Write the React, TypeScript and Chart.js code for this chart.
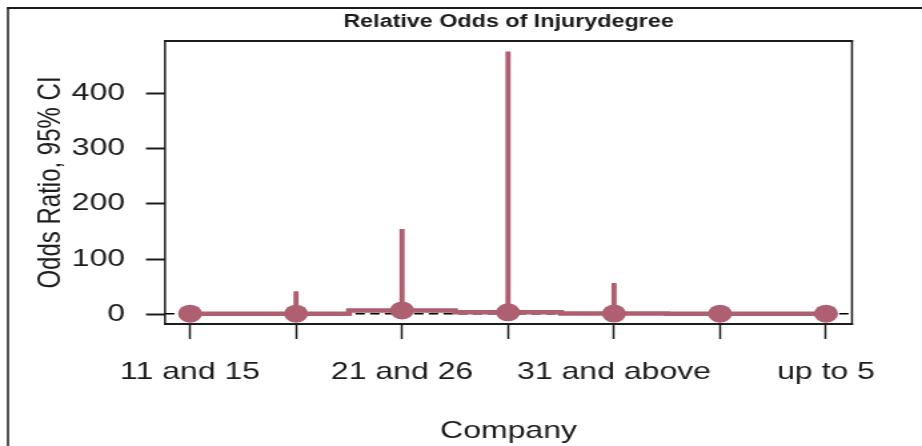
import React, { useEffect, useRef } from "react";
import { Chart, registerables } from "chart.js";

Chart.register(...registerables);

// ---- data ----
const categories = ["11 and 15", "16 and 20", "21 and 26", "27 and 30", "31 and above", "6 and 10", "up to 5"];
// labels actually printed (R drops the overlapping ones)
const xTickLabels = ["11 and 15", "", "21 and 26", "", "31 and above", "", "up to 5"];
const oddsRatio = [1.0, 1.1, 7.0, 3.5, 1.2, 1.0, 1.0];
const lowerCI = [0.2, 0.05, 0.3, 0.03, 0.03, 0.2, 0.2];
const upperCI = [9, 41, 154, 475, 56, 8, 6];
const referenceOdds = 1;
const yTicks = [0, 100, 200, 300, 400];

const chartTitle = "Relative Odds of Injurydegree";
const yTitle = "Odds Ratio, 95% CI";
const xTitle = "Company";

// ---- layout ----
const W = 692;
const H = 446;
const SX = 922 / W; // horizontal stretch of the reference picture
const PINK = "#AE5F70";
const INK = "#1c1c1c";
const FONT = "'Liberation Sans', Arial, Helvetica, sans-serif";
const X_MIN = 0.764;
const X_MAX = 7.245;

export default function App() {
  const ref = useRef<HTMLCanvasElement>(null);

  useEffect(() => {
    const prev = document.documentElement.style.overflow;
    document.documentElement.style.overflow = "hidden";
    const canvas = ref.current!;

    const framePlugin = {
      id: "frame",
      beforeDraw(chart: any) {
        const ctx = chart.ctx;
        ctx.save();
        ctx.fillStyle = "#fff";
        ctx.fillRect(0, 0, W, H);
        ctx.restore();
      },
      afterDraw(chart: any) {
        const { ctx, chartArea: a } = chart;
        ctx.save();
        ctx.fillStyle = INK;
        // outer frame (left and top edges visible)
        ctx.fillRect(7 / SX, 7, W, 2);
        ctx.fillRect(7 / SX, 7, 2 / SX, H);
        // plot box
        const vw = 2 / SX;
        const hh = 2;
        ctx.fillRect(a.left - vw / 2, a.top - hh / 2, a.width + vw, hh);
        ctx.fillRect(a.left - vw / 2, a.bottom - hh / 2, a.width + vw, hh);
        ctx.fillRect(a.left - vw / 2, a.top - hh / 2, vw, a.height + hh);
        ctx.fillRect(a.right - vw / 2, a.top - hh / 2, vw, a.height + hh);
        ctx.restore();
      },
    };

    const chart = new Chart(canvas, {
      type: "line",
      data: {
        datasets: [
          {
            type: "line",
            data: [
              { x: X_MIN, y: referenceOdds },
              { x: X_MAX, y: referenceOdds },
            ],
            borderColor: "#000",
            borderWidth: 1.5,
            borderDash: [7, 4],
            pointRadius: 0,
            order: 4,
          } as any,
          {
            type: "bar",
            data: categories.map((_, i) => ({ x: i + 1, y: [lowerCI[i], upperCI[i]] })),
            backgroundColor: PINK,
            borderWidth: 0,
            barThickness: 3.2,
            order: 3,
          } as any,
          {
            type: "line",
            data: categories.map((_, i) => ({ x: i + 1, y: oddsRatio[i] })),
            borderColor: PINK,
            borderWidth: 4.5,
            stepped: "middle",
            pointRadius: 9,
            pointHoverRadius: 9,
            pointBackgroundColor: PINK,
            pointBorderWidth: 0,
            order: 2,
          } as any,
        ],
      },
      options: {
        responsive: false,
        devicePixelRatio: 1,
        animation: false,
        events: [],
        layout: { padding: { left: 0, top: 0, bottom: 0, right: W - 852 / SX } },
        plugins: {
          legend: { display: false },
          tooltip: { enabled: false },
          title: {
            display: true,
            text: chartTitle,
            fullSize: false,
            color: INK,
            font: { family: FONT, size: 17.5, weight: "bold" },
            padding: { top: 12, bottom: 8 },
          },
        },
        scales: {
          x: {
            type: "linear",
            min: X_MIN,
            max: X_MAX,
            offset: false,
            afterBuildTicks: (s: any) => {
              s.ticks = categories.map((_, i) => ({ value: i + 1 }));
            },
            afterFit: (s: any) => {
              s.height = H - 324;
              s.paddingLeft = 0;
              s.paddingRight = 0;
            },
            grid: {
              offset: false,
              drawOnChartArea: false,
              drawTicks: true,
              tickLength: 15,
              tickWidth: 1.5,
              tickColor: INK,
            },
            border: { display: false },
            ticks: {
              autoSkip: false,
              maxRotation: 0,
              minRotation: 0,
              padding: 19,
              color: INK,
              font: { family: FONT, size: 24 },
              callback: (_v: any, i: number) => xTickLabels[i],
            },
            title: {
              display: true,
              text: xTitle,
              color: INK,
              font: { family: FONT, size: 24 },
              padding: { top: 0, bottom: 0.6 },
            },
          },
          y: {
            type: "linear",
            min: -17.6,
            max: 494.7,
            afterBuildTicks: (s: any) => {
              s.ticks = yTicks.map((v) => ({ value: v }));
            },
            afterFit: (s: any) => {
              s.width = 165 / SX;
              s.paddingTop = 0;
              s.paddingBottom = 0;
            },
            grid: {
              drawOnChartArea: false,
              drawTicks: true,
              tickLength: 19 / SX,
              tickWidth: 2,
              tickColor: INK,
            },
            border: { display: false },
            ticks: {
              padding: 15.7,
              color: INK,
              font: { family: FONT, size: 24 },
            },
            title: {
              display: true,
              text: yTitle,
              color: INK,
              font: { family: FONT, size: 24 },
              padding: { top: 24, bottom: 0 },
            },
          },
        },
      } as any,
      plugins: [framePlugin],
    });

    return () => {
      chart.destroy();
      document.documentElement.style.overflow = prev;
    };
  }, []);

  return (
    <div style={{ position: "fixed", left: 0, top: 0, width: 922, height: 446, background: "#fff" }}>
      <canvas
        ref={ref}
        width={W}
        height={H}
        style={{ width: "922px", height: "446px", display: "block" }}
      />
    </div>
  );
}
